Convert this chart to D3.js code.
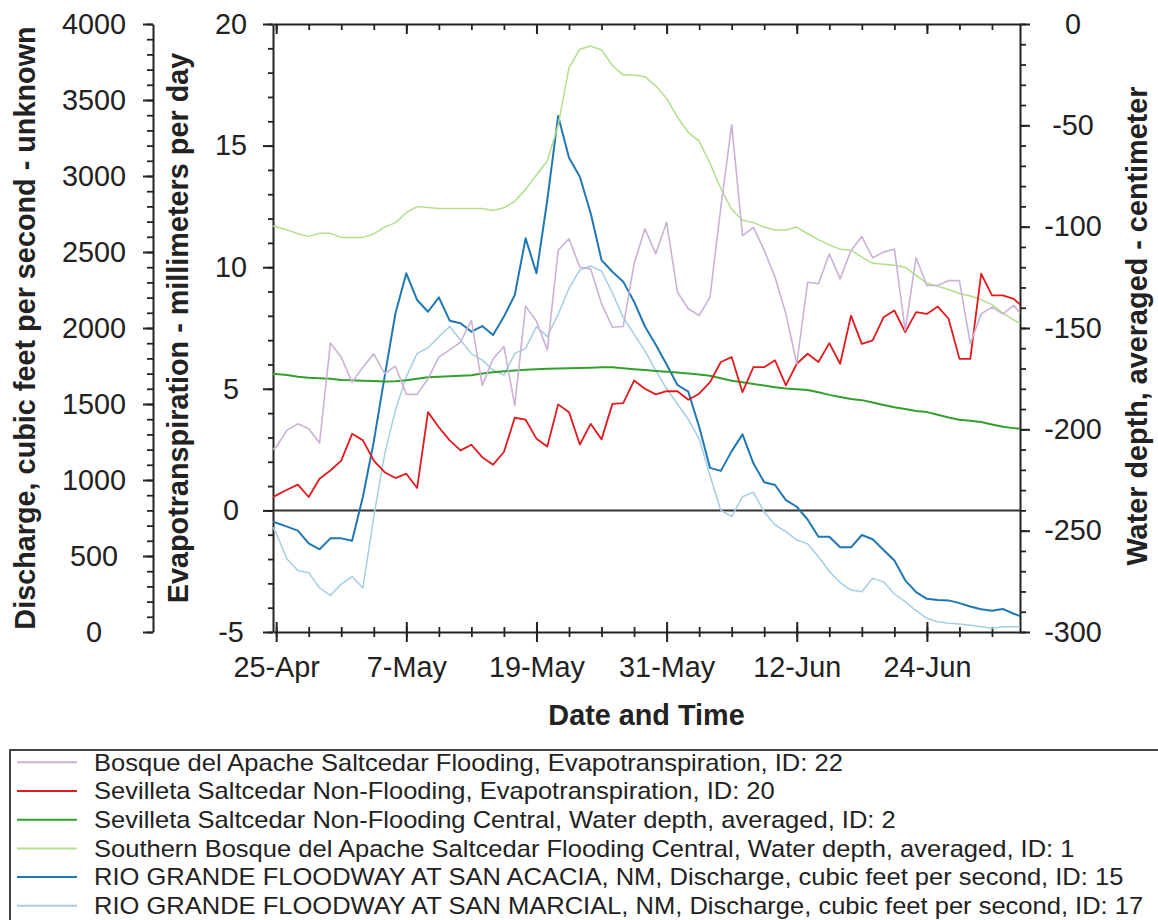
<!DOCTYPE html>
<html>
<head>
<meta charset="utf-8">
<script src="https://cdn.jsdelivr.net/npm/d3@7"></script>
<style>
  body { margin: 0; background: #fff; }
  svg { display: block; font-family: "Liberation Sans", Arial, sans-serif; }
</style>
</head>
<body>
<svg id="chart" width="1158" height="920"></svg>
<script>
// Daily values, 24-Apr to 3-Jul (first and last day fall just outside the plot and get clipped)
const firstDay = new Date(2005, 3, 24);

const etBosque = [2.3, 2.6, 3.3, 3.56, 3.36, 2.77, 6.88, 6.3, 5.27, 5.89, 6.44, 5.62, 5.93, 4.77, 4.77, 5.41, 6.3, 6.6, 6.92, 7.81,
  5.14, 6.23, 6.74, 4.32, 8.4, 7.78, 6.6, 10.69, 11.17, 10.0, 9.93, 8.5, 7.53, 7.56, 10.14, 11.58, 10.55, 11.85, 8.97, 8.29,
  8.01, 8.77, 12.47, 15.86, 11.3, 11.64, 10.69, 9.59, 8.08, 6.03, 9.38, 9.32, 10.55, 9.52, 10.69, 11.26, 10.39, 10.62, 10.75, 7.4,
  10.39, 9.25, 9.25, 9.45, 9.45, 6.85, 8.08, 8.36, 8.08, 8.43, 7.9];

const etSevilleta = [0.4, 0.62, 0.85, 1.06, 0.55, 1.3, 1.64, 2.05, 3.15, 2.88, 2.05, 1.57, 1.33, 1.51, 0.92, 4.04, 3.42, 2.88, 2.47, 2.7,
  2.19, 1.88, 2.4, 3.81, 3.73, 2.95, 2.63, 4.36, 4.04, 2.71, 3.56, 2.92, 4.38, 4.41, 5.34, 5.0, 4.77, 4.9, 4.9, 4.55,
  4.8, 5.27, 6.1, 6.3, 4.86, 5.89, 5.89, 6.17, 5.14, 6.03, 6.44, 6.1, 6.88, 6.03, 8.01, 6.85, 6.99, 7.94, 8.22, 7.33,
  8.15, 8.08, 8.38, 7.88, 6.23, 6.23, 9.73, 8.84, 8.84, 8.7, 8.3];

const depthSevilleta = [-172.5, -172.7, -173.2, -174, -174.5, -174.8, -175, -175.6, -175.8, -176, -176.2, -176.4, -176.3, -175.8, -175, -174.3, -174, -173.8, -173.5, -173.3,
  -172.4, -171.8, -171.4, -171, -170.6, -170.3, -170.1, -170, -169.8, -169.7, -169.6, -169.4, -169.4, -169.8, -170.3, -170.7, -171.2, -171.6, -172, -172.5,
  -173, -173.6, -174.8, -176, -176.8, -177.6, -178.4, -179.2, -179.9, -180.2, -180.6, -181.7, -183, -184, -185, -185.6, -186.8, -188, -189.1, -190,
  -191, -191.5, -192.8, -194.2, -195.3, -195.8, -196.4, -197.6, -198.7, -199.4, -200];

const depthBosque = [-99.5, -100, -101.6, -103.5, -104.8, -103.3, -103.3, -105.3, -105.3, -105.3, -103.6, -100.2, -98, -93.1, -90.1, -90.6, -91, -91, -91, -91,
  -91, -92, -90.7, -87.5, -81.6, -74.5, -67.5, -50, -21.5, -12.5, -10.9, -12.8, -20.5, -25.2, -25.2, -26, -30.5, -36.7, -46, -53.5,
  -57.8, -68.7, -81.2, -91.5, -96.8, -98, -100.2, -101.6, -101.6, -100.2, -103.5, -106.4, -109, -111.2, -111.6, -115, -118.1, -118.5, -119, -120,
  -124, -127.9, -129.4, -131, -133, -134.2, -136, -138.5, -142.7, -146, -149];

const qAcacia = [740, 719, 693, 667, 583, 544, 616, 616, 601, 890, 1252, 1680, 2097, 2360, 2184, 2107, 2202, 2048, 2031, 1976,
  2013, 1954, 2075, 2217, 2590, 2360, 2842, 3395, 3120, 2995, 2755, 2447, 2370, 2305, 2173, 2010, 1890, 1760, 1625, 1581,
  1350, 1080, 1060, 1190, 1300, 1110, 985, 967, 868, 824, 740, 627, 627, 557, 557, 638, 610, 540, 470, 340,
  262, 218, 211, 208, 190, 168, 150, 140, 152, 120, 95];

const qMarcial = [780, 650, 480, 405, 390, 290, 240, 315, 365, 290, 759, 1170, 1461, 1680, 1833, 1870, 1943, 2010, 1921, 1830,
  1789, 1724, 1690, 1833, 1866, 2009, 1943, 2090, 2260, 2382, 2408, 2375, 2230, 2070, 1960, 1850, 1720, 1600, 1500, 1400,
  1270, 1030, 800, 760, 890, 920, 790, 704, 660, 605, 580, 495, 400, 325, 276, 265, 353, 330, 250, 200,
  140, 90, 68, 58, 53, 45, 35, 24, 35, 35, 35];

const seriesNames = [
  "Bosque del Apache Saltcedar Flooding, Evapotranspiration, ID: 22",
  "Sevilleta Saltcedar Non-Flooding, Evapotranspiration, ID: 20",
  "Sevilleta Saltcedar Non-Flooding Central, Water depth, averaged, ID: 2",
  "Southern Bosque del Apache Saltcedar Flooding Central, Water depth, averaged, ID: 1",
  "RIO GRANDE FLOODWAY AT SAN ACACIA, NM, Discharge, cubic feet per second, ID: 15",
  "RIO GRANDE FLOODWAY AT SAN MARCIAL, NM, Discharge, cubic feet per second, ID: 17"
];
const seriesColors = ["#cab2d6", "#e31a1c", "#33a02c", "#b2df8a", "#1f78b4", "#a6cee3"];

const qTicks = [0, 500, 1000, 1500, 2000, 2500, 3000, 3500, 4000];
const etTicks = [-5, 0, 5, 10, 15, 20];
const depthTicks = [-300, -250, -200, -150, -100, -50, 0];
const dateTicks = [new Date(2005, 3, 25), new Date(2005, 4, 7), new Date(2005, 4, 19),
  new Date(2005, 4, 31), new Date(2005, 5, 12), new Date(2005, 5, 24)];

const svg = d3.select("#chart");
const plot = {left: 273, right: 1020, top: 24, bottom: 632};
const ink = "#222";
const plain = d => String(d);   // "4000", "-50": no thousands comma, ascii minus

// scales
const x = d3.scaleTime()
  .domain([d3.timeHour.offset(new Date(2005, 3, 25), -7), d3.timeHour.offset(new Date(2005, 6, 2), 14)])
  .range([plot.left, plot.right]);
const yQ = d3.scaleLinear().domain([0, 4000]).range([plot.bottom, plot.top]);
const yET = d3.scaleLinear().domain([-5, 20]).range([plot.bottom, plot.top]);
const yD = d3.scaleLinear().domain([-300, 0]).range([plot.bottom, plot.top]);

const dayOf = i => d3.timeDay.offset(firstDay, i);

function styleAxis(g, labelX) {
  g.select(".domain").attr("stroke", ink).attr("stroke-width", 2);
  g.selectAll(".tick line").attr("stroke", ink).attr("stroke-width", 2);
  g.selectAll(".tick text")
    .attr("fill", ink)
    .style("font-size", "28.8px")
    .attr("text-anchor", "middle");
  if (labelX !== undefined) g.selectAll(".tick text").attr("x", labelX);
}

// minor ticks (no labels)
function minorAxis(axis, tx, ty, size) {
  const g = svg.append("g").attr("transform", `translate(${tx},${ty})`)
    .call(axis.tickSize(size).tickSizeOuter(0).tickFormat(""));
  g.select(".domain").remove();
  g.selectAll(".tick line").attr("stroke", ink).attr("stroke-width", 1.8);
  return g;
}

// Discharge axis (outer left)
minorAxis(d3.axisLeft(yQ).tickValues(d3.range(0, 4001, 100)), 153, 0, 6);
svg.append("g").attr("transform", "translate(153,0)")
  .call(d3.axisLeft(yQ).tickValues(qTicks).tickSize(10).tickSizeOuter(0).tickFormat(plain))
  .call(g => styleAxis(g, -59));

// Evapotranspiration axis (inner left)
minorAxis(d3.axisLeft(yET).tickValues(d3.range(-5, 21, 1)), plot.left, 0, 5);
svg.append("g").attr("transform", `translate(${plot.left},0)`)
  .call(d3.axisLeft(yET).tickValues(etTicks).tickSize(10).tickSizeOuter(0).tickFormat(plain))
  .call(g => styleAxis(g, -42));

// Water depth axis (right)
minorAxis(d3.axisRight(yD).tickValues(d3.range(-300, 1, 10)), plot.right, 0, 6);
svg.append("g").attr("transform", `translate(${plot.right},0)`)
  .call(d3.axisRight(yD).tickValues(depthTicks).tickSize(10).tickSizeOuter(0).tickFormat(plain))
  .call(g => styleAxis(g, 53));

// Date axis, bottom: ticks cross the axis line
const minorDates = d3.timeDay.range(new Date(2005, 3, 25), new Date(2005, 6, 3), 3);
minorAxis(d3.axisBottom(x).tickValues(minorDates), 0, plot.bottom, 5)
  .selectAll(".tick line").attr("y1", -5);
svg.append("g").attr("transform", `translate(0,${plot.bottom})`)
  .call(d3.axisBottom(x).tickValues(dateTicks).tickSize(10).tickSizeOuter(0).tickFormat(d3.timeFormat("%-d-%b")))
  .call(g => {
    styleAxis(g);
    g.selectAll(".tick line").attr("y1", -10);
    g.selectAll(".tick text").attr("y", 25);
  });

// Date axis mirrored on top, ticks pointing down
minorAxis(d3.axisBottom(x).tickValues(minorDates), 0, plot.top, 6);
svg.append("g").attr("transform", `translate(0,${plot.top})`)
  .call(d3.axisBottom(x).tickValues(dateTicks).tickSize(10).tickSizeOuter(0).tickFormat(""))
  .call(g => styleAxis(g));

// zero line of evapotranspiration
svg.append("line")
  .attr("x1", plot.left).attr("x2", plot.right)
  .attr("y1", yET(0)).attr("y2", yET(0))
  .attr("stroke", "#333").attr("stroke-width", 2);

// lines
svg.append("clipPath").attr("id", "plotClip")
  .append("rect")
  .attr("x", plot.left).attr("y", plot.top)
  .attr("width", plot.right - plot.left).attr("height", plot.bottom - plot.top);

const lines = [
  {values: qMarcial, y: yQ, color: seriesColors[5], w: 1.5},
  {values: qAcacia, y: yQ, color: seriesColors[4], w: 2},
  {values: depthBosque, y: yD, color: seriesColors[3], w: 1.5},
  {values: depthSevilleta, y: yD, color: seriesColors[2], w: 2},
  {values: etSevilleta, y: yET, color: seriesColors[1], w: 1.8},
  {values: etBosque, y: yET, color: seriesColors[0], w: 1.6}
];

const lineG = svg.append("g").attr("clip-path", "url(#plotClip)");
lines.forEach(s => {
  const line = d3.line().x((d, i) => x(dayOf(i))).y(d => s.y(d));
  lineG.append("path")
    .datum(s.values)
    .attr("d", line)
    .attr("fill", "none")
    .attr("stroke", s.color)
    .attr("stroke-width", s.w)
    .attr("stroke-linejoin", "round");
});

// axis titles
const titleStyle = t => t.attr("text-anchor", "middle").attr("fill", ink)
  .style("font-size", "28.8px").style("font-weight", "bold");

svg.append("text").attr("transform", "translate(35,328) rotate(-90)")
  .call(titleStyle).text("Discharge, cubic feet per second - unknown");
svg.append("text").attr("transform", "translate(188,328) rotate(-90)")
  .call(titleStyle).text("Evapotranspiration - millimeters per day");
svg.append("text").attr("transform", "translate(1147,326) rotate(-90)")
  .call(titleStyle).text("Water depth, averaged - centimeter");
svg.append("text").attr("x", (plot.left + plot.right) / 2).attr("y", 725)
  .call(titleStyle).text("Date and Time");

// legend
svg.append("rect")
  .attr("x", 10).attr("y", 750).attr("width", 1170).attr("height", 200)
  .attr("fill", "none").attr("stroke", "#444").attr("stroke-width", 2);

const legend = svg.append("g").selectAll("g")
  .data(seriesNames)
  .join("g")
  .attr("transform", (d, i) => `translate(0,${762.3 + i * 28.7})`);

legend.append("line")
  .attr("x1", 17).attr("x2", 77)
  .attr("stroke", (d, i) => seriesColors[i])
  .attr("stroke-width", 2);

// legend font in the original is a bit wider than Arial
legend.append("text")
  .attr("transform", "translate(94,8.2) scale(1.11,1)")
  .attr("fill", ink)
  .style("font-size", "23px")
  .text(d => d);
</script>
</body>
</html>
